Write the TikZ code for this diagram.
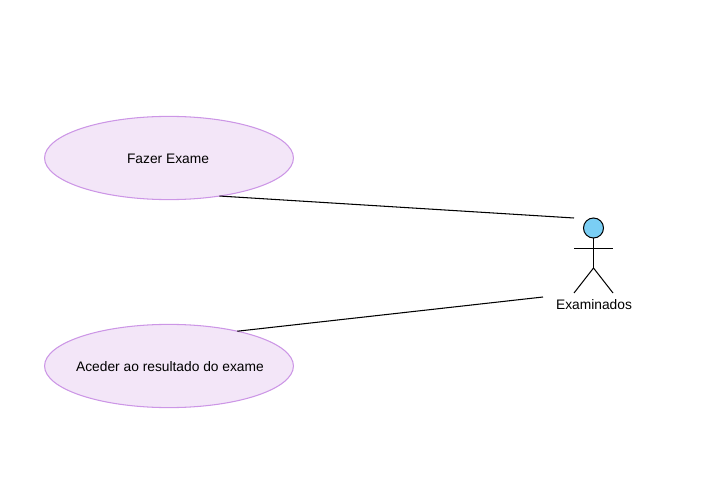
\documentclass[tikz,border=0pt]{standalone}
\usepackage{fontspec}
\setmainfont{Liberation Sans}
\usetikzlibrary{shapes.geometric}
\definecolor{casofill}{HTML}{F3E6F8}
\definecolor{casoline}{HTML}{CC96E6}
\definecolor{headfill}{HTML}{7ACEF4}
\newcommand{\rotulo}[2]{\makebox[0pt]{\hspace{#1}\raisebox{-4.1pt}[0pt][0pt]{#2}}}
\tikzset{
	caso/.style={ellipse, draw=casoline, fill=casofill, line width=0.75pt, minimum width=6.22cm, minimum height=2.08cm, inner sep=0pt, outer sep=0pt, font=\fontsize{9.8}{11}\selectfont},
	ator/.style={line width=0.72pt},
	ligacao/.style={line width=0.75pt}
}
\begin{document}
\begin{tikzpicture}[x=0.025cm, y=-0.025cm]
			\useasboundingbox (0, 0) rectangle (716, 491);
			% casos de uso
			\node[caso] (fazer) at (169, 158) {\rotulo{-1.4pt}{Fazer Exame}};
			\node[caso] (aceder) at (169, 366) {\rotulo{1.4pt}{Aceder ao resultado do exame}};
			% ator
			\node[circle, draw, ator, fill=headfill, minimum size=0.5cm, inner sep=0pt, outer sep=0pt] (cabeca) at (593.5, 228) {};
			\coordinate (ombro) at (593.5, 248.5);
			\coordinate (anca) at (593.5, 268);
			\coordinate (maoE) at (574, 248.5);
			\coordinate (maoD) at (613, 248.5);
			\coordinate (peE) at (574, 293);
			\coordinate (peD) at (613, 293);
			\draw[ator] (cabeca) -- (anca);
			\draw[ator] (maoE) -- (maoD);
			\draw[ator] (peE) -- (anca) -- (peD);
			\node[font=\fontsize{9.8}{11}\selectfont] (examinados) at (594, 305) {Examinados};
			% ligacoes
			\coordinate (fimFazer) at (574, 218);
			\coordinate (fimAceder) at (543, 297);
			\draw[ligacao] (fazer.-37.6) -- (fimFazer);
			\draw[ligacao] (aceder.27.4) -- (fimAceder);
		\end{tikzpicture}
\end{document}
